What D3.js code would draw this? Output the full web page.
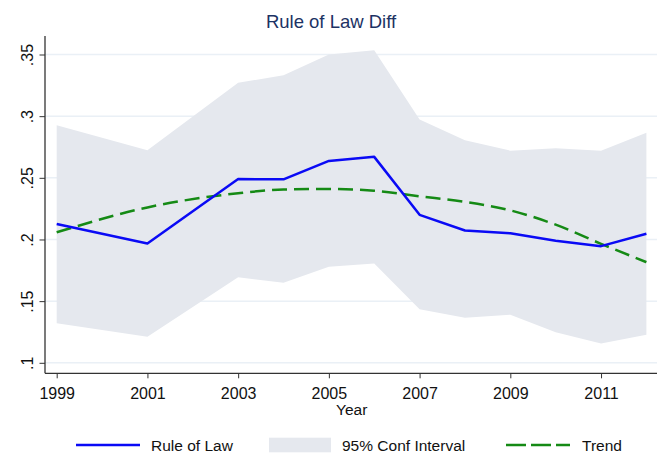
<!DOCTYPE html>
<html>
<head>
<meta charset="utf-8">
<script src="https://cdn.jsdelivr.net/npm/d3@7"></script>
<style>
  body { margin: 0; background: #fff; }
  svg { display: block; font-family: Arial, "Liberation Sans", sans-serif; }
</style>
</head>
<body>
<svg width="662" height="459"></svg>
<script>
var years    = [1999, 2001, 2003, 2004, 2005, 2006, 2007, 2008, 2009, 2010, 2011, 2012]
var ruleOfLaw = [0.2125, 0.1968, 0.249, 0.2488, 0.2637, 0.267, 0.220, 0.2073, 0.205, 0.199, 0.1946, 0.2046]
var ciUpper  = [0.2927, 0.2724, 0.327, 0.3332, 0.350, 0.3535, 0.2973, 0.2805, 0.272, 0.274, 0.272, 0.2865]
var ciLower  = [0.132, 0.1212, 0.1693, 0.1649, 0.1779, 0.1806, 0.1434, 0.1366, 0.139, 0.1247, 0.1157, 0.1228]
var trend    = [0.2058, 0.226, 0.2375, 0.2405, 0.241, 0.2395, 0.235, 0.2305, 0.2236, 0.212, 0.1965, 0.1816]

var xTicks = [1999, 2001, 2003, 2005, 2007, 2009, 2011]
var yTicks = [0.1, 0.15, 0.2, 0.25, 0.3, 0.35]
var yTickLabels = ['.1', '.15', '.2', '.25', '.3', '.35']

var svg = d3.select('svg')

// note: "top" is taken by window.top, so plot edges get their own names
var plotLeft = 45, plotRight = 657, plotTop = 36, plotBottom = 373.3

var x = d3.scaleLinear().domain([1999, 2012]).range([56.7, 646.4])
var y = d3.scaleLinear().domain([0.1, 0.35]).range([362.8, 54.5])

var rows = years.map(function (yr, i) {
  return { year: yr, v: ruleOfLaw[i], hi: ciUpper[i], lo: ciLower[i], t: trend[i] }
})

// gridlines
svg.append('g')
  .selectAll('line')
  .data(yTicks)
  .enter().append('line')
    .attr('x1', plotLeft).attr('x2', plotRight)
    .attr('y1', function (d) { return y(d) }).attr('y2', function (d) { return y(d) })
    .attr('stroke', '#eaf0f6')
    .attr('stroke-width', 1.5)

// confidence band
svg.append('path')
  .datum(rows)
  .attr('fill', '#e5e8ee')
  .attr('d', d3.area()
    .x(function (d) { return x(d.year) })
    .y0(function (d) { return y(d.lo) })
    .y1(function (d) { return y(d.hi) }))

// trend
svg.append('path')
  .datum(rows)
  .attr('fill', 'none')
  .attr('stroke', '#158a15')
  .attr('stroke-width', 2.5)
  .attr('stroke-dasharray', '15,7')
  .attr('d', d3.line().curve(d3.curveMonotoneX)
    .x(function (d) { return x(d.year) })
    .y(function (d) { return y(d.t) }))

// rule of law
svg.append('path')
  .datum(rows)
  .attr('fill', 'none')
  .attr('stroke', '#0a0af5')
  .attr('stroke-width', 2.5)
  .attr('stroke-linejoin', 'round')
  .attr('d', d3.line()
    .x(function (d) { return x(d.year) })
    .y(function (d) { return y(d.v) }))

// y axis
var yAxis = svg.append('g')
  .attr('transform', 'translate(' + plotLeft + ',0)')
  .call(d3.axisLeft(y).tickValues(yTicks).tickSize(5.5).tickFormat(function (d, i) { return yTickLabels[i] }))
yAxis.select('.domain').remove()
yAxis.selectAll('.tick line').attr('stroke', '#333')
yAxis.selectAll('.tick text')
  .attr('x', null).attr('dy', null)
  .attr('text-anchor', 'middle')
  .attr('transform', 'translate(-12,0) rotate(-90)')
  .attr('font-size', 16)
  .attr('fill', '#111')
yAxis.append('line')
  .attr('x1', 0).attr('x2', 0).attr('y1', plotTop).attr('y2', plotBottom)
  .attr('stroke', '#333').attr('stroke-width', 1.3)

// x axis
var xAxis = svg.append('g')
  .attr('transform', 'translate(0,' + plotBottom + ')')
  .call(d3.axisBottom(x).tickValues(xTicks).tickSize(5).tickFormat(d3.format('d')))
xAxis.select('.domain').remove()
xAxis.selectAll('.tick line').attr('stroke', '#333')
xAxis.selectAll('.tick text')
  .attr('y', null).attr('dy', null)
  .attr('transform', 'translate(0,25.5)')
  .attr('font-size', 16)
  .attr('fill', '#111')
xAxis.append('line')
  .attr('x1', plotLeft).attr('x2', plotRight).attr('y1', 0).attr('y2', 0)
  .attr('stroke', '#333').attr('stroke-width', 1.3)

svg.append('text')
  .attr('x', 351.7).attr('y', 415)
  .attr('text-anchor', 'middle')
  .attr('font-size', 15.5)
  .attr('fill', '#111')
  .text('Year')

// title
svg.append('text')
  .attr('x', 331).attr('y', 28)
  .attr('text-anchor', 'middle')
  .attr('font-size', 18.5)
  .attr('fill', '#1c3264')
  .text('Rule of Law Diff')

// legend
var lg = svg.append('g')
lg.append('line')
  .attr('x1', 76).attr('x2', 140).attr('y1', 445).attr('y2', 445)
  .attr('stroke', '#0a0af5').attr('stroke-width', 2.5)
lg.append('text').attr('x', 151).attr('y', 450.5).attr('font-size', 15.5).attr('fill', '#111').text('Rule of Law')
lg.append('rect')
  .attr('x', 269).attr('y', 437.7).attr('width', 62).attr('height', 14.6)
  .attr('fill', '#e5e8ee')
lg.append('text').attr('x', 342).attr('y', 450.5).attr('font-size', 15.5).attr('fill', '#111').text('95% Conf Interval')
lg.append('line')
  .attr('x1', 506).attr('x2', 570).attr('y1', 445).attr('y2', 445)
  .attr('stroke', '#158a15').attr('stroke-width', 2.5)
  .attr('stroke-dasharray', '20,5')
lg.append('text').attr('x', 582).attr('y', 450.5).attr('font-size', 15.5).attr('fill', '#111').text('Trend')
</script>
</body>
</html>
